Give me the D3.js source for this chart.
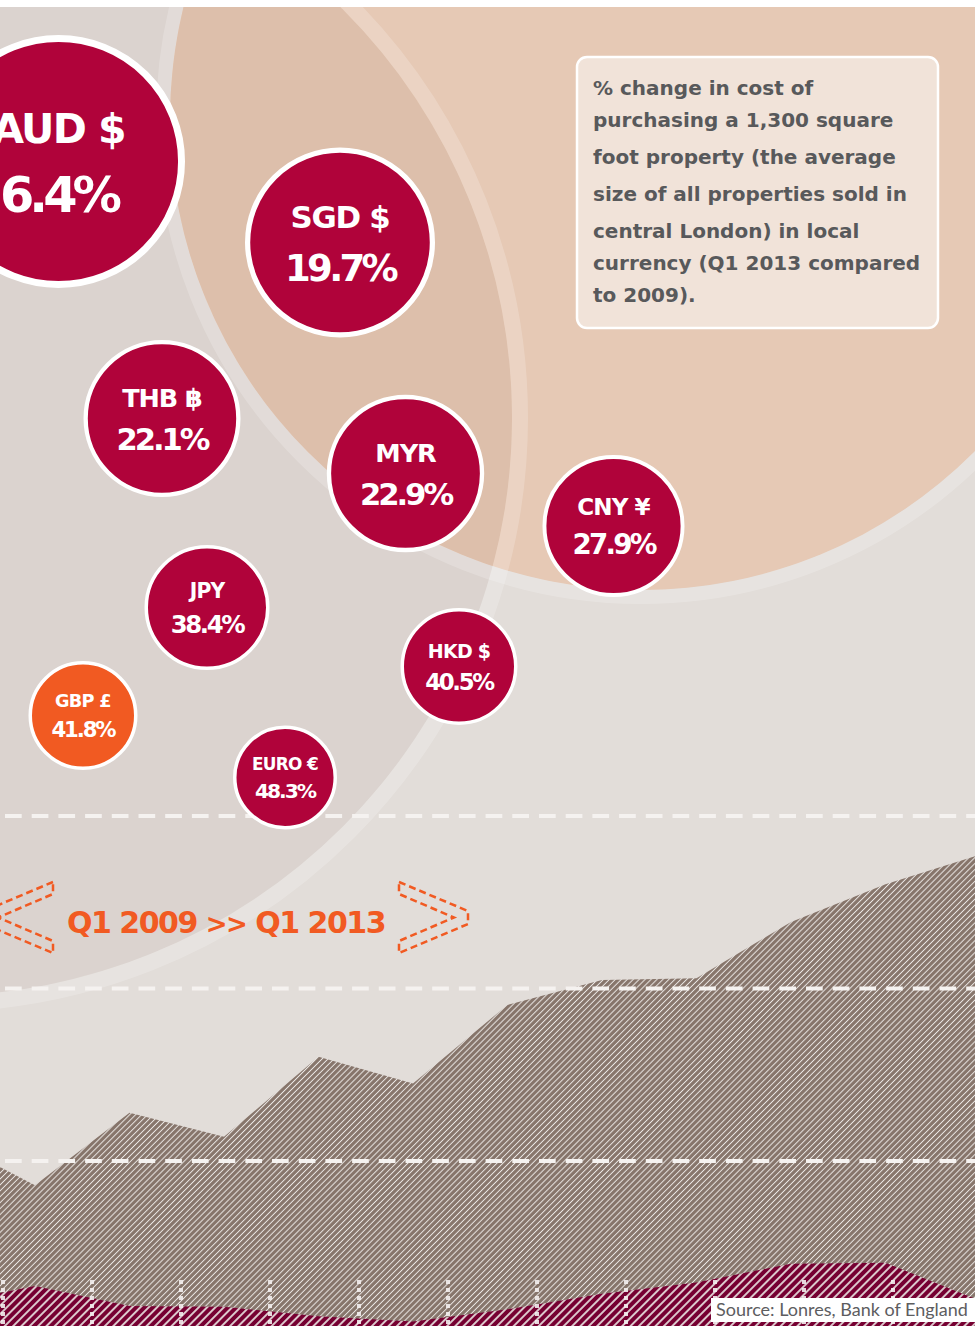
<!DOCTYPE html>
<html>
<head>
<meta charset="utf-8">
<script src="https://cdn.jsdelivr.net/npm/d3@7"></script>
<style>
html, body { margin: 0; padding: 0; background: #fff; }
svg { display: block; }
</style>
</head>
<body>
<div id="chart"></div>
<script>
// % change in cost of a 1,300 sq ft central London property, Q1 2013 vs 2009
var currencies = ['AUD $', 'SGD $', 'THB ฿', 'MYR', 'CNY ¥', 'JPY', 'HKD $', 'GBP £', 'EURO €'];
var changes = [6.4, 19.7, 22.1, 22.9, 27.9, 38.4, 40.5, 41.8, 48.3];
var homeCurrency = 'GBP £';

// area series behind (index values per period)
var periods = [0, 1, 2, 3, 4, 5, 6, 7, 8, 9, 10, 11];
var upperSeries = [229, 172, 256, 228, 321, 290, 381, 410, 412, 477, 521, 555];
var lowerSeries = [33, 55, 32, 31, 20, 14, 28, 46, 59, 81, 82, 38];
var gridValues = [200, 400, 600];
var tickIndex = [0, 1, 2, 3, 4, 5, 6, 7, 8, 9, 10];

var noteLines = ['% change in cost of', 'purchasing a 1,300 square', 'foot property (the average',
  'size of all properties sold in', 'central London) in local', 'currency (Q1 2013 compared', 'to 2009).'];
var periodFrom = 'Q1 2009', periodTo = 'Q1 2013';
var sourceText = 'Source: Lonres, Bank of England';

// bubble layout (centre x, centre y, outer radius), same order as currencies
var bubbleLayout = [
  [58.5, 161.5, 126.5], [340, 242.5, 95], [162, 418.5, 78.5], [405.5, 473.5, 78.7],
  [613.5, 526, 71], [207, 607.5, 62.5], [459, 666.5, 58.5], [83, 715.5, 54.5], [285, 777.5, 52]
];

var W = 975, H = 1326, top0 = 7;
var red = '#b0033a', orange = '#f15a22';
var sq = '"DejaVu Sans", Verdana, sans-serif';

var svg = d3.select('#chart').append('svg').attr('width', W).attr('height', H);
var defs = svg.append('defs');

defs.append('clipPath').attr('id', 'frame')
  .append('rect').attr('x', 0).attr('y', top0).attr('width', W).attr('height', H - top0);
defs.append('clipPath').attr('id', 'grayDisc')
  .append('circle').attr('cx', -66).attr('cy', 418).attr('r', 578);

function hatch(id, bg, size, lw) {
  var p = defs.append('pattern').attr('id', id)
    .attr('patternUnits', 'userSpaceOnUse')
    .attr('width', size).attr('height', size)
    .attr('patternTransform', 'rotate(45)');
  p.append('rect').attr('width', size).attr('height', size).attr('fill', bg);
  p.append('line').attr('x1', size / 2).attr('x2', size / 2).attr('y1', -1).attr('y2', size + 1)
    .attr('stroke', '#ebe7e4').attr('stroke-width', lw);
}
hatch('hatchUpper', '#86746a', 4.2, 1.0);
hatch('hatchLower', '#760032', 5.9, 1.7);

var g = svg.append('g').attr('clip-path', 'url(#frame)');

// background discs
g.append('rect').attr('x', 0).attr('y', top0).attr('width', W).attr('height', H - top0).attr('fill', '#e2ddd9');
g.append('circle').attr('cx', -66).attr('cy', 418).attr('r', 578).attr('fill', '#dbd3cf');
g.append('circle').attr('cx', 641).attr('cy', 119).attr('r', 471).attr('fill', '#e6c9b5');
g.append('circle').attr('cx', 641).attr('cy', 119).attr('r', 471).attr('fill', '#ddbfab')
  .attr('clip-path', 'url(#grayDisc)');
g.append('circle').attr('cx', -66).attr('cy', 418).attr('r', 586)
  .attr('fill', 'none').attr('stroke', '#fff').attr('stroke-opacity', 0.2).attr('stroke-width', 16);
g.append('circle').attr('cx', 641).attr('cy', 119).attr('r', 478)
  .attr('fill', 'none').attr('stroke', '#fff').attr('stroke-opacity', 0.2).attr('stroke-width', 14);

// areas
var x = d3.scaleLinear().domain([0, 11]).range([-59.5, 980]);
var y = d3.scaleLinear().domain([0, 600]).range([1333.5, 816]);
var area = d3.area()
  .x(function(d, i) { return x(periods[i]); })
  .y0(y(0))
  .y1(function(d) { return y(d); });

g.append('path').datum(upperSeries).attr('d', area).attr('fill', 'url(#hatchUpper)');
g.append('path').datum(lowerSeries).attr('d', area).attr('fill', 'url(#hatchLower)');

// dashed grid lines
g.selectAll('.grid').data(gridValues).enter().append('line')
  .attr('class', 'grid')
  .attr('x1', 5).attr('x2', W)
  .attr('y1', function(d) { return y(d); })
  .attr('y2', function(d) { return y(d); })
  .attr('stroke', '#f5f2f0').attr('stroke-width', 4)
  .attr('stroke-dasharray', '16.7 10');

// dotted ticks at the bottom
var xt = d3.scaleLinear().domain([0, 10]).range([3, 893]);
g.selectAll('.tick').data(tickIndex).enter().append('line')
  .attr('class', 'tick')
  .attr('x1', function(d) { return xt(d); })
  .attr('x2', function(d) { return xt(d); })
  .attr('y1', 1280).attr('y2', H)
  .attr('stroke', '#f3eeee').attr('stroke-opacity', 0.9).attr('stroke-width', 4)
  .attr('stroke-dasharray', '4 4');

// bubbles
var bubbles = g.selectAll('.bubble').data(currencies).enter().append('g').attr('class', 'bubble');
bubbles.append('circle')
  .attr('cx', function(d, i) { return bubbleLayout[i][0]; })
  .attr('cy', function(d, i) { return bubbleLayout[i][1]; })
  .attr('r', function(d, i) { var R = bubbleLayout[i][2]; return R - Math.max(3.5, 0.055 * R) / 2; })
  .attr('fill', function(d) { return d === homeCurrency ? orange : red; })
  .attr('stroke', '#fff')
  .attr('stroke-width', function(d, i) { return Math.max(3.5, 0.055 * bubbleLayout[i][2]); });

bubbles.append('text')
  .attr('x', function(d, i) { return bubbleLayout[i][0]; })
  .attr('y', function(d, i) { return bubbleLayout[i][1] - 0.15 * bubbleLayout[i][2]; })
  .attr('text-anchor', 'middle')
  .style('font-family', sq).style('font-weight', 'bold')
  .style('font-size', function(d, i) { return (0.325 * bubbleLayout[i][2]) + 'px'; })
  .style('letter-spacing', '-0.04em')
  .attr('fill', '#fff')
  .text(function(d) { return d; });

bubbles.append('text')
  .attr('x', function(d, i) { return bubbleLayout[i][0]; })
  .attr('y', function(d, i) { return bubbleLayout[i][1] + 0.40 * bubbleLayout[i][2]; })
  .attr('text-anchor', 'middle')
  .style('font-family', sq).style('font-weight', 'bold')
  .style('font-size', function(d, i) { return (0.39 * bubbleLayout[i][2]) + 'px'; })
  .style('letter-spacing', '-0.1em')
  .attr('fill', '#fff')
  .text(function(d, i) { return changes[i].toFixed(1) + '%'; });

// note box
g.append('rect').attr('x', 577).attr('y', 57).attr('width', 361).attr('height', 271).attr('rx', 10)
  .attr('fill', '#f1e3d9').attr('stroke', '#fff').attr('stroke-width', 2.5);
var noteY = [95, 127, 164, 201, 238, 270, 302];
g.selectAll('.note').data(noteLines).enter().append('text')
  .attr('class', 'note')
  .attr('x', 593)
  .attr('y', function(d, i) { return noteY[i]; })
  .style('font-family', sq).style('font-weight', 'bold').style('font-size', '20px')
  .attr('fill', '#58595b')
  .text(function(d) { return d; });

// period label with dashed chevrons
var pt = g.append('text').attr('x', 226).attr('y', 933).attr('text-anchor', 'middle')
  .style('font-family', sq).style('font-weight', 'bold').style('font-size', '30px')
  .style('letter-spacing', '-1.5px').attr('fill', orange);
pt.append('tspan').text(periodFrom + ' ');
pt.append('tspan').style('font-size', '26px').text('>>');
pt.append('tspan').text(' ' + periodTo);

function chevron(dir) {
  // dir 1 points right, -1 points left, mirrored about the label centre
  var pts = [[399, 882], [468, 911], [468, 924], [399, 953], [399, 941], [454, 917.5], [399, 894]];
  return d3.line()(pts.map(function(p) { return [dir > 0 ? p[0] : 452 - p[0], p[1]]; })) + 'Z';
}
[1, -1].forEach(function(dir) {
  g.append('path').attr('d', chevron(dir))
    .attr('fill', 'none').attr('stroke', orange).attr('stroke-width', 2.5)
    .attr('stroke-dasharray', '7 4');
});

// source
g.append('rect').attr('x', 711).attr('y', 1298).attr('width', 270).attr('height', 24).attr('fill', '#fff');
g.append('text').attr('x', 716).attr('y', 1316)
  .style('font-family', 'Lato, "Open Sans", sans-serif').style('font-size', '18px')
  .attr('fill', '#5d5d5f').text(sourceText);
</script>
</body>
</html>
